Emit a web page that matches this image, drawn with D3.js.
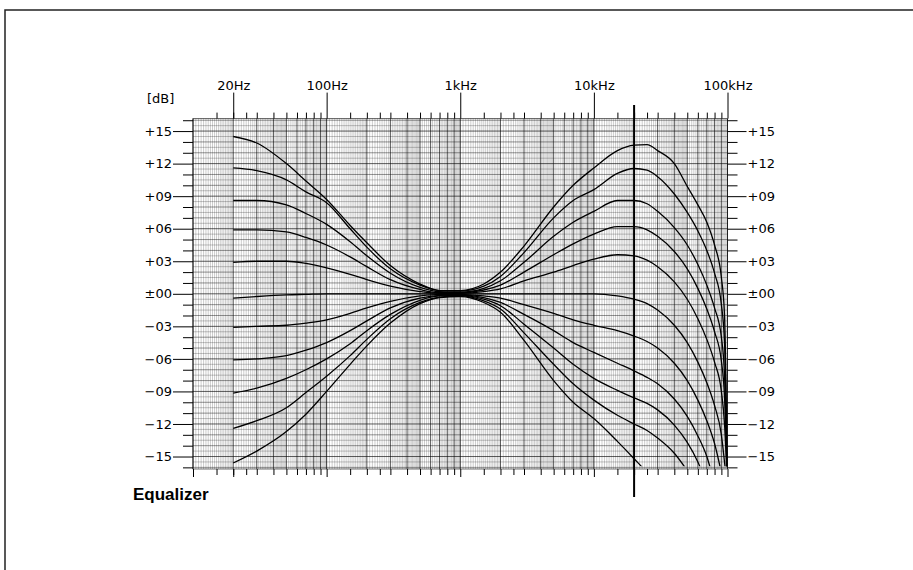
<!DOCTYPE html>
<html>
<head>
<meta charset="utf-8">
<script src="https://cdn.jsdelivr.net/npm/d3@7"></script>
<style>
  body { margin: 0; background: #fff; }
  svg { display: block; }
</style>
</head>
<body>
<div id="chart"></div>
<script>
// frequency points (Hz) shared by every curve
const freqs = [20, 30, 50, 70, 100, 150, 200, 300, 500, 700, 1000, 1500, 2000, 3000, 5000, 7000,
  10000, 15000, 20000, 25000, 30000, 40000, 50000, 60000, 70000, 80000, 90000, 95000, 100000];

// response in dB for each bass/treble setting (null = curve already ran off the bottom)
const curveP15 = [14.5, 13.9, 12.0, 10.4, 8.7, 6.3, 4.7, 2.6, 0.9, 0.3, 0.3, 0.9, 2.0, 4.4, 8.0, 10.0,
  11.6, 13.2, 13.7, 13.75, 13.2, 12.0, 9.9, 8.2, 6.6, 4.5, 1.5, -2.0, -18];
const curveP12 = [11.6, 11.35, 10.5, 9.4, 8.4, 6.0, 4.3, 2.3, 0.8, 0.3, 0.25, 0.7, 1.6, 3.8, 7.0, 8.6,
  9.6, 11.1, 11.55, 11.4, 10.8, 9.2, 7.5, 5.8, 4.0, 1.9, -1.0, -4.5, -18];
const curveP09 = [8.6, 8.6, 8.2, 7.4, 6.4, 4.8, 3.5, 1.9, 0.6, 0.2, 0.15, 0.5, 1.2, 2.9, 5.3, 6.6,
  7.6, 8.6, 8.6, 8.3, 7.6, 6.1, 4.5, 2.7, 0.8, -1.3, -4.0, -7.5, -18];
const curveP06 = [5.9, 5.9, 5.7, 5.2, 4.5, 3.4, 2.5, 1.3, 0.4, 0.1, 0.1, 0.35, 0.8, 2.0, 3.6, 4.6,
  5.5, 6.2, 6.2, 5.9, 5.3, 3.9, 2.3, 0.5, -1.4, -3.5, -6.2, -9.5, -18];
const curveP03 = [2.9, 3.0, 3.0, 2.8, 2.4, 1.8, 1.3, 0.7, 0.2, 0.05, 0.05, 0.2, 0.45, 1.2, 2.0, 2.6,
  3.2, 3.6, 3.5, 3.1, 2.5, 1.1, -0.5, -2.3, -4.2, -6.3, -9.0, -12.0, -18];
const curveZero = [-0.4, -0.25, -0.1, -0.05, 0, 0, 0, 0, 0, 0, 0, 0, 0, 0, 0, 0,
  0, -0.2, -0.5, -0.9, -1.5, -2.9, -4.5, -6.3, -8.2, -10.3, -13.0, -15.5, -18];
const curveM03 = [-3.1, -3.0, -2.9, -2.7, -2.4, -1.8, -1.3, -0.7, -0.2, -0.05, -0.05, -0.2, -0.4, -1.0, -1.8, -2.4,
  -2.9, -3.4, -3.9, -4.4, -5.0, -6.4, -8.0, -9.8, -11.7, -13.8, -16.5, null, null];
const curveM06 = [-6.1, -6.0, -5.7, -5.2, -4.5, -3.4, -2.5, -1.3, -0.4, -0.15, -0.1, -0.35, -0.8, -1.9, -3.4, -4.5,
  -5.4, -6.4, -7.1, -7.7, -8.3, -9.7, -11.3, -13.1, -15.0, -17.5, null, null, null];
const curveM09 = [-9.15, -8.7, -7.8, -7.0, -6.0, -4.6, -3.4, -1.9, -0.6, -0.2, -0.15, -0.5, -1.1, -2.8, -5.0, -6.5,
  -7.8, -8.9, -9.6, -10.1, -10.7, -12.1, -13.7, -15.5, -17.5, null, null, null, null];
const curveM12 = [-12.4, -11.7, -10.5, -9.1, -7.6, -5.7, -4.2, -2.3, -0.8, -0.3, -0.2, -0.65, -1.4, -3.6, -6.5, -8.3,
  -9.8, -11.2, -12.0, -12.6, -13.3, -14.7, -16.3, null, null, null, null, null, null];
const curveM15 = [-15.6, -14.5, -12.7, -11.1, -9.0, -6.5, -4.8, -2.7, -0.9, -0.35, -0.25, -0.8, -1.7, -4.3, -8.0, -10.0,
  -11.5, -13.6, -15.2, -16.5, -17.8, null, null, null, null, null, null, null, null];

const curves = [curveP15, curveP12, curveP09, curveP06, curveP03, curveZero,
  curveM03, curveM06, curveM09, curveM12, curveM15];

// axis ticks and labels
const dbTicks = [15, 12, 9, 6, 3, 0, -3, -6, -9, -12, -15];
const dbLabels = ["+15", "+12", "+09", "+06", "+03", "±00", "−03", "−06", "−09", "−12", "−15"];
const freqTicks = [20, 100, 1000, 10000, 100000];
const freqLabels = ["20Hz", "100Hz", "1kHz", "10kHz", "100kHz"];
const markerFreq = 20000;
const unitLabel = "[dB]";
const title = "Equalizer";

const W = 913, H = 570;
const plotLeft = 193, plotRight = 727.5, plotTop = 118.6, plotBottom = 469;

const svg = d3.select("#chart")
  .append("svg")
  .attr("width", W)
  .attr("height", H);

// outer frame
svg.append("rect")
  .attr("x", 5).attr("y", 10)
  .attr("width", 940).attr("height", 600)
  .attr("fill", "none")
  .attr("stroke", "#222")
  .attr("stroke-width", 1.5);

// scales
const x = d3.scaleLog().domain([10, 100000]).range([plotLeft, plotRight]);
const y = d3.scaleLinear().domain([-16.15, 16.15]).range([plotBottom, plotTop]);

// log paper grid
const grid = svg.append("g").attr("class", "grid");

const vMinor = [];
[10, 100, 1000, 10000].forEach(dec => {
  d3.range(1, 2, 0.05).forEach(m => vMinor.push(m * dec));
  d3.range(2, 5, 0.1).forEach(m => vMinor.push(m * dec));
  d3.range(5, 10, 0.2).forEach(m => vMinor.push(m * dec));
});
const vMajor = [];
[10, 100, 1000, 10000].forEach(dec => {
  d3.range(1, 10).forEach(m => vMajor.push(m * dec));
});
vMajor.push(100000);

grid.selectAll(".vminor")
  .data(vMinor)
  .join("line")
  .attr("x1", d => x(d)).attr("x2", d => x(d))
  .attr("y1", plotTop).attr("y2", plotBottom)
  .attr("stroke", "#000")
  .attr("stroke-opacity", 0.4)
  .attr("stroke-width", 0.5);

grid.selectAll(".hminor")
  .data(d3.range(-16, 16.01, 0.5))
  .join("line")
  .attr("x1", plotLeft).attr("x2", plotRight)
  .attr("y1", d => y(d)).attr("y2", d => y(d))
  .attr("stroke", "#000")
  .attr("stroke-opacity", d => (Math.abs(d % 1) < 1e-6 ? 0.7 : 0.4))
  .attr("stroke-width", d => (Math.abs(d % 3) < 1e-6 ? 0.9 : 0.6));

grid.selectAll(".vmajor")
  .data(vMajor)
  .join("line")
  .attr("x1", d => x(d)).attr("x2", d => x(d))
  .attr("y1", plotTop).attr("y2", plotBottom)
  .attr("stroke", "#000")
  .attr("stroke-opacity", d => ([10, 100, 1000, 10000, 100000].includes(d) ? 0.9 : 0.7))
  .attr("stroke-width", 0.8);

grid.append("rect")
  .attr("x", plotLeft).attr("y", plotTop)
  .attr("width", plotRight - plotLeft).attr("height", plotBottom - plotTop)
  .attr("fill", "none")
  .attr("stroke", "#000")
  .attr("stroke-opacity", 0.7)
  .attr("stroke-width", 0.8);

// axes helper: strip the domain path and set the plotter-like font
function styleAxis(g) {
  g.select(".domain").remove();
  g.attr("font-family", "'DejaVu Sans', sans-serif")
    .attr("font-size", 13);
  g.selectAll("line").attr("stroke", "#000").attr("stroke-width", 1);
  g.selectAll("text").attr("fill", "#000");
}

const minorFreqTicks = [];
[10, 100, 1000, 10000].forEach(dec => {
  [1.5, 2, 2.5, 3, 4, 5, 6, 7, 8, 9].forEach(m => minorFreqTicks.push(m * dec));
});
const minorDbTicks = d3.range(-16, 17, 1).filter(d => d % 3 !== 0);

// left axis
svg.append("g")
  .attr("transform", `translate(${plotLeft},0)`)
  .call(d3.axisLeft(y).tickValues(minorDbTicks).tickSize(10).tickFormat(""))
  .call(styleAxis);
svg.append("g")
  .attr("transform", `translate(${plotLeft},0)`)
  .call(d3.axisLeft(y).tickValues(dbTicks).tickSize(20).tickPadding(1)
    .tickFormat((d, i) => dbLabels[i]))
  .call(styleAxis);

// right axis
svg.append("g")
  .attr("transform", `translate(${plotRight},0)`)
  .call(d3.axisRight(y).tickValues(minorDbTicks).tickSize(10).tickFormat(""))
  .call(styleAxis);
svg.append("g")
  .attr("transform", `translate(${plotRight},0)`)
  .call(d3.axisRight(y).tickValues(dbTicks).tickSize(19).tickPadding(1)
    .tickFormat((d, i) => dbLabels[i]))
  .call(styleAxis);

// top axis
svg.append("g")
  .attr("transform", `translate(0,${plotTop})`)
  .call(d3.axisTop(x).tickValues(minorFreqTicks).tickSize(6).tickFormat(""))
  .call(styleAxis);
svg.append("g")
  .attr("transform", `translate(0,${plotTop})`)
  .call(d3.axisTop(x).tickValues(freqTicks).tickSize(26).tickPadding(3)
    .tickFormat((d, i) => freqLabels[i]))
  .call(styleAxis);

// bottom axis (ticks only)
svg.append("g")
  .attr("transform", `translate(0,${plotBottom})`)
  .call(d3.axisBottom(x).tickValues(minorFreqTicks).tickSize(6).tickFormat(""))
  .call(styleAxis);
svg.append("g")
  .attr("transform", `translate(0,${plotBottom})`)
  .call(d3.axisBottom(x).tickValues([10].concat(freqTicks)).tickSize(8).tickFormat(""))
  .call(styleAxis);

// unit label
svg.append("text")
  .attr("x", 147).attr("y", 103)
  .attr("font-family", "'DejaVu Sans', sans-serif")
  .attr("font-size", 13)
  .text(unitLabel);

// curves, clipped where they run off the bottom
svg.append("clipPath")
  .attr("id", "plot-clip")
  .append("rect")
  .attr("x", plotLeft).attr("y", plotTop)
  .attr("width", plotRight - plotLeft)
  .attr("height", y(-15.9) - plotTop);

const line = d3.line()
  .defined(d => d.v !== null)
  .x(d => x(d.f))
  .y(d => y(d.v))
  .curve(d3.curveMonotoneX);

svg.append("g")
  .attr("clip-path", "url(#plot-clip)")
  .selectAll(".curve")
  .data(curves)
  .join("path")
  .attr("class", "curve")
  .attr("d", vals => line(vals.map((v, i) => ({ f: freqs[i], v: v }))))
  .attr("fill", "none")
  .attr("stroke", "#000")
  .attr("stroke-width", 1.3)
  .attr("stroke-linejoin", "round");

// 20 kHz marker line
svg.append("line")
  .attr("x1", x(markerFreq)).attr("x2", x(markerFreq))
  .attr("y1", 105).attr("y2", 497)
  .attr("stroke", "#000")
  .attr("stroke-width", 2);

// title
svg.append("text")
  .attr("x", 133).attr("y", 500)
  .attr("font-family", "'Liberation Sans', Arial, sans-serif")
  .attr("font-weight", "bold")
  .attr("font-size", 17)
  .text(title);
</script>
</body>
</html>
